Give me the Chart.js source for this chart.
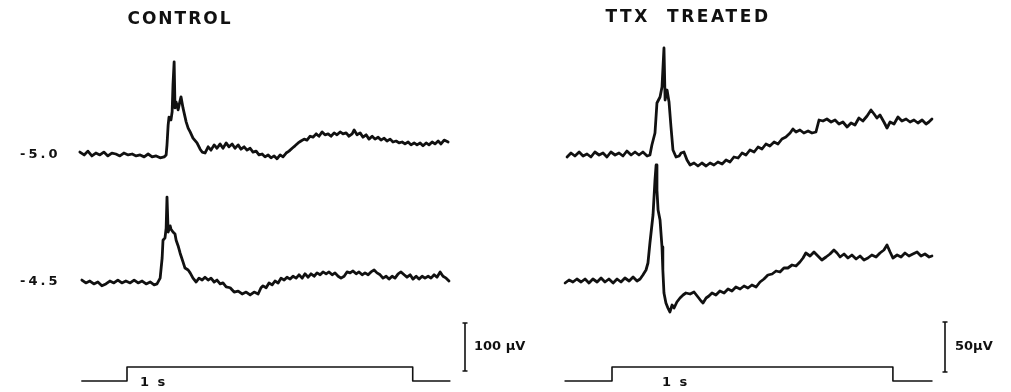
<!DOCTYPE html>
<html>
<head>
    <title>Evoked potentials: control vs TTX treated</title>
    <script src="https://cdn.jsdelivr.net/npm/chart.js"></script>
</head>
<body style="margin:0; background-color:white;">
    <div style="position:relative; width:1011px; height:392px;">
        <canvas id="traceChart"></canvas>
    </div>

    <script>
        // time in ms from stimulus onset, potential in µV from pre-stimulus baseline

        // CONTROL, -5.0
        const ctrlTime50 = [-165,-150,-137,-123,-109,-95,-81,-67,-53,-39,-25,-11,4,18,32,46,60,74,88,102,116,130,137,140,144,147,154,158,161,165,168,172,179,186,189,196,207,214,221,231,245,256,263,273,284,294,305,315,326,336,347,357,368,378,389,399,410,420,431,441,452,462,473,483,494,504,515,525,536,546,557,567,578,588,599,609,620,630,641,651,662,672,683,693,704,714,725,735,746,756,767,777,788,795,805,816,826,837,847,858,868,879,889,900,910,921,931,942,952,963,973,984,994,1005,1015,1026,1036,1047,1057,1068,1078,1089,1099,1110,1124];
        const ctrlVolt50 = [4,-2,6,-4,2,-2,4,-4,2,0,-4,2,-2,0,-4,-2,-6,0,-6,-4,-8,-6,-2,19,60,77,71,88,144,192,96,108,92,112,119,96,67,54,46,33,23,10,4,2,15,8,19,12,21,12,23,15,21,12,19,10,15,8,12,4,6,-2,0,-6,-2,-8,-4,-10,-2,-6,2,6,12,17,23,27,31,29,37,35,42,37,46,40,42,37,44,40,46,42,44,37,42,50,40,44,35,40,31,37,31,35,29,33,27,31,25,27,23,25,21,25,19,23,19,23,17,23,19,25,21,27,21,29,25];

        // CONTROL, -4.5
        const ctrlTime45 = [-158,-144,-130,-116,-102,-88,-74,-60,-46,-32,-18,-4,11,25,39,53,67,81,95,105,116,123,126,133,137,140,144,151,154,161,168,172,179,186,196,203,214,221,231,242,252,263,273,284,294,305,315,326,336,347,361,375,389,403,417,431,445,459,469,476,487,497,508,518,529,539,550,560,571,581,592,602,613,623,634,644,655,665,676,686,697,707,718,728,739,749,760,770,781,791,802,812,823,833,844,854,865,875,886,896,907,917,928,938,949,959,970,980,991,1001,1012,1022,1033,1043,1054,1064,1075,1085,1096,1106,1117,1127];
        const ctrlVolt45 = [4,-2,2,-4,0,-8,-4,2,-2,4,-2,2,-2,4,-2,2,-4,0,-6,-4,8,50,87,92,112,177,104,117,110,104,100,87,75,60,42,29,25,19,8,0,8,4,10,4,8,0,4,-4,-2,-10,-12,-21,-19,-25,-21,-27,-21,-25,-12,-8,-12,-2,-6,2,-2,8,4,10,6,12,8,15,8,17,10,17,12,19,15,21,17,21,15,19,12,8,12,21,19,23,17,21,15,19,15,21,25,19,15,8,12,6,12,8,17,21,15,10,15,6,12,6,12,8,12,8,15,10,21,12,8,2];

        // TTX TREATED, -5.0
        const ttxTime50 = [-160,-146,-132,-117,-103,-89,-75,-61,-46,-32,-18,-4,11,25,39,53,68,82,96,110,125,135,142,153,160,171,178,185,189,196,203,210,217,228,239,246,256,267,278,292,306,320,335,349,363,377,392,406,420,434,449,463,477,491,506,520,534,548,562,577,591,605,619,634,644,655,669,683,698,712,726,737,751,765,780,794,808,822,837,851,865,879,893,908,922,933,943,954,968,979,990,1004,1018,1032,1047,1061,1075,1089,1104,1118,1128,1139];
        const ttxVolt50 = [-1,3,0,4,0,2,-1,4,1,3,-1,4,1,3,0,5,1,4,1,4,0,1,11,23,53,59,69,108,56,66,54,29,6,-1,0,3,4,-4,-9,-7,-10,-7,-10,-7,-9,-6,-8,-4,-6,-1,-2,3,1,6,4,9,7,12,10,14,12,17,19,23,27,24,26,23,25,23,24,36,35,37,34,36,32,34,29,33,31,38,35,40,46,42,38,41,34,28,34,32,39,35,37,34,36,33,36,32,34,37];

        // TTX TREATED, -4.5
        const ttxTime45 = [-167,-153,-139,-125,-110,-96,-82,-68,-53,-39,-25,-11,4,18,32,46,61,75,89,100,110,121,128,135,146,153,157,160,164,171,178,181,185,192,199,206,214,221,231,242,253,263,278,292,306,317,324,335,345,356,370,384,399,413,427,441,456,470,484,498,513,527,541,555,570,584,598,612,626,641,655,669,680,690,705,719,733,747,762,776,790,801,812,826,840,854,869,883,897,911,925,940,954,968,979,990,1000,1015,1029,1043,1057,1071,1086,1100,1114,1129,1139];
        const ttxVolt45 = [-2,1,-1,2,-1,2,-2,2,-1,3,-1,2,-2,2,-1,3,0,4,0,2,6,11,18,38,66,101,116,91,71,61,34,11,-12,-22,-27,-31,-24,-27,-21,-17,-14,-12,-13,-11,-16,-20,-22,-17,-15,-12,-14,-10,-12,-8,-10,-6,-8,-5,-7,-4,-6,-1,2,6,7,10,9,13,13,16,15,19,23,28,25,29,25,21,24,27,31,28,24,27,23,26,22,25,21,23,26,24,28,31,36,29,23,26,24,28,25,27,29,25,27,24,25];

        // conditioning step, 1 s long
        const ctrlStimTime = [-158, 0, 0, 1000, 1000, 1130];
        const ttxStimTime = [-167, 0, 0, 1000, 1000, 1139];
        const stimLevel = [0, 0, 1, 1, 0, 0];

        const ink = '#111111';

        function pairs(ts, vs) {
            return ts.map((t, i) => ({ x: t, y: vs[i] }));
        }

        function trace(ts, vs, xAxis, yAxis, width) {
            return {
                data: pairs(ts, vs),
                xAxisID: xAxis,
                yAxisID: yAxis,
                borderColor: ink,
                borderWidth: width,
                pointRadius: 0,
                tension: 0,
                fill: false,
                borderJoinStyle: 'round',
                borderCapStyle: 'round'
            };
        }

        function hidden(min, max) {
            return { type: 'linear', display: false, min: min, max: max };
        }

        // labels and calibration bars
        const labelsPlugin = {
            id: 'labels',
            afterDraw(chart) {
                const ctx = chart.ctx;
                ctx.save();
                ctx.fillStyle = ink;
                ctx.strokeStyle = ink;
                ctx.textBaseline = 'middle';

                function text(str, x, y, size, spacing, align) {
                    ctx.font = 'bold ' + size + 'px "DejaVu Sans"';
                    ctx.letterSpacing = spacing + 'px';
                    ctx.textAlign = align || 'left';
                    ctx.fillText(str, x, y);
                }

                text('CONTROL', 180, 20, 17, 2, 'center');
                text('TTX  TREATED', 688, 18, 17, 2.6, 'center');
                text('-5.0', 20, 155, 13, 3);
                text('-4.5', 20, 282, 13, 3);
                text('1 s', 140, 383, 13, 2);
                text('1 s', 662, 383, 13, 2);
                text('100 µV', 474, 347, 13, 0);
                text('50µV', 955, 347, 13, 0);

                function bar(x, bottom, yScale, amount) {
                    const len = Math.abs(yScale.getPixelForValue(0) - yScale.getPixelForValue(amount));
                    ctx.lineWidth = 1.6;
                    ctx.beginPath();
                    ctx.moveTo(x, bottom);
                    ctx.lineTo(x, bottom - len);
                    ctx.moveTo(x - 2.5, bottom);
                    ctx.lineTo(x + 2.5, bottom);
                    ctx.moveTo(x - 2.5, bottom - len);
                    ctx.lineTo(x + 2.5, bottom - len);
                    ctx.stroke();
                }
                bar(465, 371, chart.scales.yLB, 100);
                bar(945, 372, chart.scales.yRB, 50);
                ctx.restore();
            }
        };

        new Chart(document.getElementById('traceChart'), {
            type: 'line',
            data: {
                datasets: [
                    trace(ctrlTime50, ctrlVolt50, 'xL', 'yLT', 2.8),
                    trace(ctrlTime45, ctrlVolt45, 'xL', 'yLB', 2.8),
                    trace(ttxTime50, ttxVolt50, 'xR', 'yRT', 2.8),
                    trace(ttxTime45, ttxVolt45, 'xR', 'yRB', 2.8),
                    trace(ctrlStimTime, stimLevel, 'xL', 'yStim', 1.6),
                    trace(ttxStimTime, stimLevel, 'xR', 'yStim', 1.6)
                ]
            },
            options: {
                responsive: true,
                maintainAspectRatio: false,
                animation: false,
                layout: { padding: 0 },
                scales: {
                    xL: hidden(-444.5, 3094),
                    xR: hidden(-2178.7, 1420.4),
                    yLT: hidden(-495.8, 320.8),
                    yLB: hidden(-229.2, 587.5),
                    yRT: hidden(-236, 156),
                    yRB: hidden(-111, 281),
                    yStim: hidden(-0.786, 27.214)
                },
                plugins: {
                    legend: { display: false },
                    tooltip: { enabled: false }
                }
            },
            plugins: [labelsPlugin]
        });
    </script>
</body>
</html>
